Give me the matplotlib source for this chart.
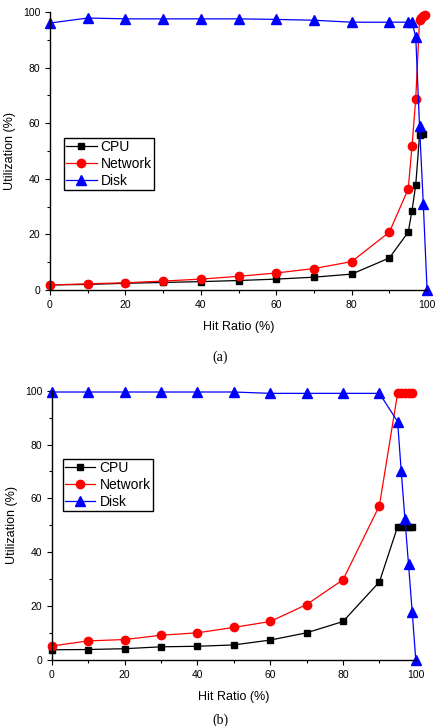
import matplotlib
matplotlib.use("Agg")
import matplotlib.pyplot as plt
from matplotlib.ticker import MultipleLocator

plt.rcParams['font.family'] = ['Liberation Sans', 'DejaVu Sans']

# (a)
a_disk_x = [0, 10, 20, 30, 40, 50, 60, 70, 80, 90, 95, 96, 97, 98, 99, 100]
a_disk_y = [96, 97.8, 97.5, 97.5, 97.5, 97.5, 97.3, 97, 96.3, 96.3, 96.3, 96.3, 91, 59, 31, 0]
a_net_x = [0, 10, 20, 30, 40, 50, 60, 70, 80, 90, 95, 96, 97, 98, 98.5, 99, 99.5]
a_net_y = [1.8, 2.2, 2.6, 3.2, 3.9, 4.9, 6.1, 7.7, 10.2, 20.8, 36.3, 51.6, 68.8, 97, 97.8, 98.4, 99]
a_cpu_x = [0, 10, 20, 30, 40, 50, 60, 70, 80, 90, 95, 96, 97, 98, 99]
a_cpu_y = [1.8, 2.0, 2.4, 2.7, 3.0, 3.4, 3.9, 4.6, 5.7, 11.5, 20.8, 28.5, 37.8, 55.6, 56.2]

# (b)
b_x = [0, 10, 20, 30, 40, 50, 60, 70, 80, 90, 95, 96, 97, 98, 99]
b_disk_x = [0, 10, 20, 30, 40, 50, 60, 70, 80, 90, 95, 96, 97, 98, 99, 100]
b_disk_y = [99.5, 99.5, 99.5, 99.5, 99.5, 99.5, 99, 99, 99, 99, 88.5, 70, 52.5, 35.5, 18, 0]
b_net_y = [5.2, 7.1, 7.6, 9.2, 10.1, 12.1, 14.3, 20.6, 29.8, 57.3, 99, 99, 99, 99, 99]
b_cpu_y = [3.8, 3.9, 4.2, 4.9, 5.1, 5.6, 7.4, 10.1, 14.3, 29, 49.5, 49.5, 49.5, 49.5, 49.5]

fig = plt.figure(figsize=(4.4, 7.26), dpi=100)
ax1 = fig.add_axes([0.1136, 0.6006, 0.857, 0.383])
ax2 = fig.add_axes([0.118, 0.0909, 0.827, 0.371])


def draw(ax, cpu_x, cpu_y, net_x, net_y, disk_x, disk_y, leg_anchor):
    ax.plot(cpu_x, cpu_y, color='black', lw=0.9, marker='s', ms=5, label='CPU')
    ax.plot(net_x, net_y, color='red', lw=0.9, marker='o', ms=6, label='Network')
    ax.plot(disk_x, disk_y, color='blue', lw=0.9, marker='^', ms=6.5, label='Disk')
    ax.set_xlim(0, 100)
    ax.set_ylim(0, 100)
    ax.xaxis.set_major_locator(MultipleLocator(20))
    ax.xaxis.set_minor_locator(MultipleLocator(10))
    ax.yaxis.set_major_locator(MultipleLocator(20))
    ax.yaxis.set_minor_locator(MultipleLocator(10))
    ax.spines['top'].set_visible(False)
    ax.spines['right'].set_visible(False)
    for s in ['left', 'bottom']:
        ax.spines[s].set_linewidth(1.0)
    ax.tick_params(which='major', direction='out', length=3.5, width=0.8, labelsize=7.5)
    ax.tick_params(which='minor', direction='out', length=2.5, width=0.8)
    for c in ax.lines:
        c.set_clip_on(False)
    ax.set_xlabel('Hit Ratio (%)', fontsize=9, labelpad=8)
    ax.set_ylabel('Utilization (%)', fontsize=9, labelpad=5)
    leg = ax.legend(loc='upper left', bbox_to_anchor=leg_anchor, borderaxespad=0,
                    fontsize=10, fancybox=False, framealpha=1, edgecolor='black',
                    handlelength=2.2, handletextpad=0.3, borderpad=0.15, labelspacing=0.2)
    leg.get_frame().set_linewidth(1.0)


draw(ax1, a_cpu_x, a_cpu_y, a_net_x, a_net_y, a_disk_x, a_disk_y, (0.037, 0.547))
draw(ax2, b_x, b_cpu_y, b_x, b_net_y, b_disk_x, b_disk_y, (0.030, 0.746))

fig.text(0.5, 1 - 357 / 726, '(a)', ha='center', va='center', fontsize=10, family='Liberation Serif')
fig.text(0.5, 1 - 720 / 726, '(b)', ha='center', va='center', fontsize=10, family='Liberation Serif')

fig.savefig('out.png', dpi=100)
